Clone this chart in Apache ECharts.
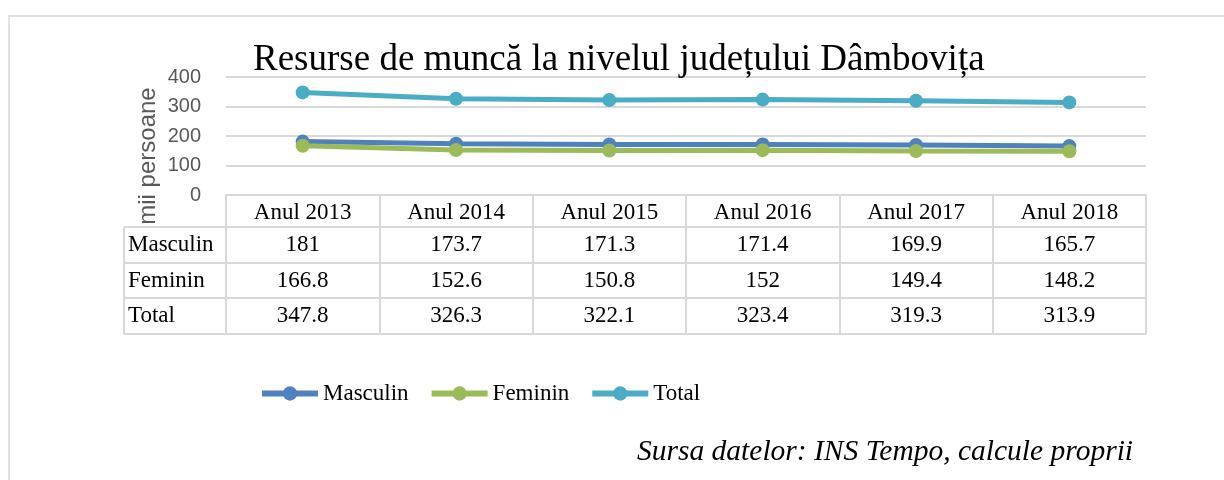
<!DOCTYPE html>
<html>
<head>
<meta charset="utf-8">
<script src="https://cdn.jsdelivr.net/npm/echarts@6/dist/echarts.min.js"></script>
<style>
  html, body { margin: 0; padding: 0; background: #fff; }
  #chart { width: 1224px; height: 480px; }
</style>
</head>
<body>
<div id="chart"></div>
<script>
// date (mii persoane)
const years = ["Anul 2013", "Anul 2014", "Anul 2015", "Anul 2016", "Anul 2017", "Anul 2018"];
const masculin = [181, 173.7, 171.3, 171.4, 169.9, 165.7];
const feminin = [166.8, 152.6, 150.8, 152, 149.4, 148.2];
const total = [347.8, 326.3, 322.1, 323.4, 319.3, 313.9];
const rowNames = ["Masculin", "Feminin", "Total"];
const yMin = 0;
const yMax = 400;
const yStep = 100;

const serif = "Liberation Serif, Times New Roman, serif";
const sans = "Liberation Sans, Arial, sans-serif";
const gridColor = "#d9d9d9";

const chart = echarts.init(document.getElementById("chart"));

const gridLeft = 226;
const gridRight = 1146;
const gridTop = 77;
const gridBottom = 195;
// randurile tabelului de sub grafic
const rowEdges = [227, 263, 298, 334];

function mkSeries(name, data, color) {
  return {
    name: name,
    type: "line",
    data: data,
    color: color,
    symbol: "circle",
    symbolSize: 14,
    lineStyle: { width: 5, color: color },
    itemStyle: { color: color },
    emphasis: { disabled: true },
  };
}

chart.setOption({
  animation: false,
  textStyle: { fontFamily: serif },
  title: {
    text: "Resurse de muncă la nivelul județului Dâmbovița",
    left: 250,
    top: 39,
    padding: [0, 3],
    textStyle: { fontFamily: serif, fontSize: 37, fontWeight: "normal", color: "#000", lineHeight: 43 },
    z: 10,
  },
  legend: {
    left: 254,
    top: 377,
    itemWidth: 56,
    itemHeight: 18,
    itemGap: 20,
    lineStyle: { width: 6 },
    textStyle: { fontFamily: serif, fontSize: 23, color: "#000" },
    data: ["Masculin", "Feminin", "Total"],
  },
  grid: {
    left: gridLeft,
    right: 1224 - gridRight,
    top: gridTop,
    bottom: 480 - gridBottom,
  },
  xAxis: {
    type: "category",
    data: years,
    boundaryGap: true,
    axisLine: { show: true, lineStyle: { color: gridColor, width: 2 } },
    axisTick: {
      show: true,
      interval: 0,
      length: rowEdges[3] - gridBottom,
      lineStyle: { color: gridColor, width: 2 },
    },
    axisLabel: { interval: 0, margin: 6, fontFamily: serif, fontSize: 23, color: "#000" },
  },
  yAxis: {
    type: "value",
    min: yMin,
    max: yMax,
    interval: yStep,
    axisLine: { show: false },
    axisTick: { show: false },
    axisLabel: { margin: 25, fontFamily: sans, fontSize: 20, color: "#595959" },
    splitLine: { lineStyle: { color: gridColor, width: 2 } },
  },
  series: [
    mkSeries("Masculin", masculin, "#4f81bd"),
    mkSeries("Feminin", feminin, "#9bbb59"),
    mkSeries("Total", total, "#4bacc6"),
  ],
});

// tabelul de date, pozitionat dupa axa categoriilor
const tableLeft = 124;
const rows = [masculin, feminin, total];
const g = [];

g.push({
  type: "rect",
  shape: { x: 9, y: 16, width: 1240, height: 500 },
  style: { fill: "none", stroke: gridColor, lineWidth: 1.5 },
  silent: true,
  z: -10,
});

rowEdges.forEach((y) => {
  g.push({
    type: "line",
    shape: { x1: tableLeft, y1: y, x2: gridRight, y2: y },
    style: { stroke: gridColor, lineWidth: 2 },
    silent: true,
  });
});
g.push({
  type: "line",
  shape: { x1: tableLeft, y1: rowEdges[0], x2: tableLeft, y2: rowEdges[3] },
  style: { stroke: gridColor, lineWidth: 2 },
  silent: true,
});

rows.forEach((vals, r) => {
  const cy = (rowEdges[r] + rowEdges[r + 1]) / 2;
  g.push({
    type: "text",
    style: {
      x: tableLeft + 4, y: cy, text: rowNames[r],
      font: "23px " + serif, fill: "#000",
      textAlign: "left", textVerticalAlign: "middle",
    },
    silent: true,
  });
  vals.forEach((v, i) => {
    const cx = chart.convertToPixel({ xAxisIndex: 0 }, years[i]);
    g.push({
      type: "text",
      style: {
        x: cx, y: cy, text: String(v),
        font: "23px " + serif, fill: "#000",
        textAlign: "center", textVerticalAlign: "middle",
      },
      silent: true,
    });
  });
});

// titlul axei verticale
g.push({
  type: "text",
  x: 148,
  y: 156,
  rotation: Math.PI / 2,
  style: {
    x: 0, y: 0, text: "mii persoane",
    font: "24px " + sans, fill: "#595959",
    textAlign: "center", textVerticalAlign: "middle",
  },
  silent: true,
});

// sursa
g.push({
  type: "text",
  style: {
    x: 637, y: 452, text: "Sursa datelor: INS Tempo, calcule proprii",
    font: "italic 29.5px " + serif, fill: "#000",
    textAlign: "left", textVerticalAlign: "middle",
  },
  silent: true,
});

chart.setOption({ graphic: g });
</script>
</body>
</html>
